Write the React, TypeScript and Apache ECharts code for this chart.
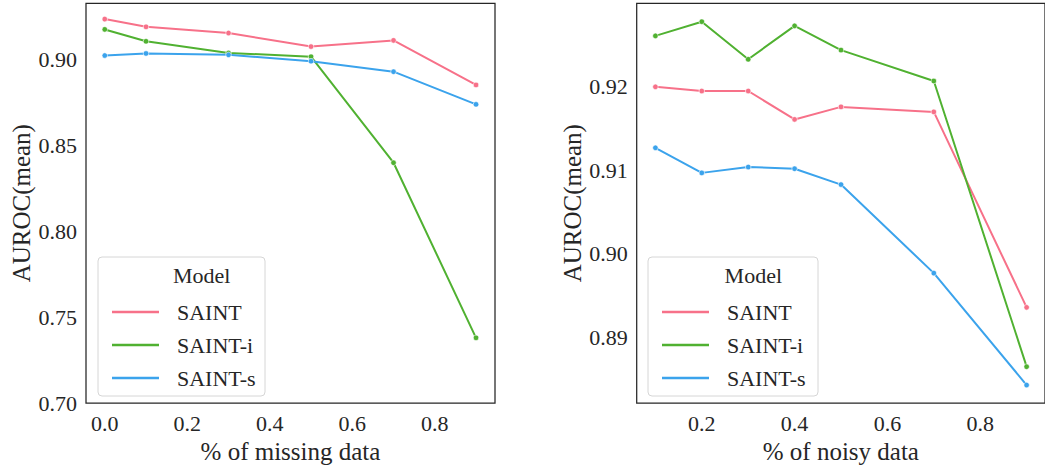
import React, { useEffect, useRef } from "react";
import * as echarts from "echarts";

const seriesNames = ["SAINT", "SAINT-i", "SAINT-s"];
const colors = ["#f77189", "#50b131", "#3ba3ec"];

const missingX = [0.0, 0.1, 0.3, 0.5, 0.7, 0.9];
const missingSAINT = [0.9235, 0.919, 0.9154, 0.9075, 0.9111, 0.8852];
const missingSAINTi = [0.9175, 0.9106, 0.9038, 0.9016, 0.8399, 0.738];
const missingSAINTs = [0.9023, 0.9035, 0.9027, 0.899, 0.8929, 0.8739];

const noisyX = [0.1, 0.2, 0.3, 0.4, 0.5, 0.7, 0.9];
const noisySAINT = [0.92, 0.9195, 0.9195, 0.9161, 0.9176, 0.917, 0.8936];
const noisySAINTi = [0.9261, 0.9278, 0.9233, 0.9273, 0.9244, 0.9207, 0.8865];
const noisySAINTs = [0.9127, 0.9097, 0.9104, 0.9102, 0.9083, 0.8977, 0.8843];

const leftXTicks = [0.0, 0.2, 0.4, 0.6, 0.8];
const leftYTicks = [0.7, 0.75, 0.8, 0.85, 0.9];
const rightXTicks = [0.2, 0.4, 0.6, 0.8];
const rightYTicks = [0.89, 0.9, 0.91, 0.92];

const FONT = "Liberation Serif";
const TXT = "#262626";

export default function App() {
  const ref = useRef<HTMLDivElement>(null);
  useEffect(() => {
    if (!ref.current) return;
    const chart = echarts.init(ref.current, undefined, { renderer: "svg" });

    const zip = (xs: number[], ys: number[]) => xs.map((x, i) => [x, ys[i]]);
    const mkSeries = (idx: number, xs: number[], ys: number[], name: string, c: string) => ({
      type: "line",
      name,
      xAxisIndex: idx,
      yAxisIndex: idx,
      data: zip(xs, ys),
      symbol: "circle",
      symbolSize: 5.5,
      showSymbol: true,
      lineStyle: { color: c, width: 2 },
      itemStyle: { color: c, borderColor: "#ffffff", borderWidth: 0.6 },
      emphasis: { disabled: true },
      z: 3,
    });

    const xAxisBase = (gi: number, min: number, max: number, ticks: number[], name: string) => ({
      type: "value",
      gridIndex: gi,
      min,
      max,
      name,
      nameLocation: "middle",
      nameGap: 31,
      nameTextStyle: { fontFamily: FONT, fontSize: 25, color: TXT },
      axisLine: { show: false },
      axisTick: { show: false },
      splitLine: { show: false },
      axisLabel: {
        customValues: ticks,
        formatter: (v: number) => v.toFixed(1),
        fontFamily: FONT,
        fontSize: 22,
        color: TXT,
        margin: 9,
      },
    });
    const yAxisBase = (gi: number, min: number, max: number, ticks: number[], dec: number) => ({
      type: "value",
      gridIndex: gi,
      min,
      max,
      name: "AUROC(mean)",
      nameLocation: "middle",
      nameGap: 52,
      nameTextStyle: { fontFamily: FONT, fontSize: 25, color: TXT },
      axisLine: { show: false },
      axisTick: { show: false },
      splitLine: { show: false },
      axisLabel: {
        customValues: ticks,
        formatter: (v: number) => v.toFixed(dec),
        fontFamily: FONT,
        fontSize: 22,
        color: TXT,
        margin: 9,
      },
    });

    const legendBase = (left: number) => ({
      show: true,
      orient: "vertical",
      left,
      top: 296,
      itemWidth: 47,
      itemHeight: 2.5,
      itemGap: 11,
      icon: "rect",
      data: seriesNames.map((n, i) => ({
        name: n,
        itemStyle: { color: colors[i], borderWidth: 0, opacity: 1 },
      })),
      textStyle: {
        fontFamily: FONT,
        fontSize: 22,
        color: TXT,
        lineHeight: 22,
        padding: [0, 0, 0, 13],
      },
      selectedMode: false,
      z: 20,
    });

    const legendBox = (x: number, w: number, titleX: number) => [
      {
        type: "rect",
        shape: { x, y: 257, width: w, height: 139, r: 4 },
        style: { fill: "#ffffff", stroke: "#d6d6d6", lineWidth: 1 },
        z: 15,
      },
      {
        type: "text",
        x: titleX,
        y: 275,
        style: {
          text: "Model",
          fontFamily: FONT,
          fontSize: 22,
          fill: TXT,
          align: "center",
          verticalAlign: "middle",
        },
        z: 21,
      },
    ];

    chart.setOption({
      animation: false,
      backgroundColor: "#ffffff",
      grid: [
        { left: 86, top: 3.3, width: 409, height: 403.7, show: true, borderColor: TXT, borderWidth: 1.25, backgroundColor: "transparent" },
        { left: 636.7, top: 3.3, width: 414, height: 403.7, show: true, borderColor: TXT, borderWidth: 1.25, backgroundColor: "transparent" },
      ],
      xAxis: [
        xAxisBase(0, -0.0455, 0.946, leftXTicks, "% of missing data"),
        xAxisBase(1, 0.0597, 0.9396, rightXTicks, "% of noisy data"),
      ],
      yAxis: [
        yAxisBase(0, 0.70, 0.9327, leftYTicks, 2),
        yAxisBase(1, 0.88214, 0.93, rightYTicks, 2),
      ],
      legend: [legendBase(107), legendBase(657)],
      graphic: [
        ...legendBox(98, 167, 201.7),
        ...legendBox(648, 170, 753.3),
      ],
      series: [
        mkSeries(0, missingX, missingSAINT, "SAINT", colors[0]),
        mkSeries(0, missingX, missingSAINTi, "SAINT-i", colors[1]),
        mkSeries(0, missingX, missingSAINTs, "SAINT-s", colors[2]),
        mkSeries(1, noisyX, noisySAINT, "SAINT", colors[0]),
        mkSeries(1, noisyX, noisySAINTi, "SAINT-i", colors[1]),
        mkSeries(1, noisyX, noisySAINTs, "SAINT-s", colors[2]),
      ],
    });
    return () => chart.dispose();
  }, []);

  return (
    <div
      ref={ref}
      style={{ position: "absolute", left: 0, top: 0, width: 1045, height: 469, overflow: "hidden" }}
    />
  );
}
